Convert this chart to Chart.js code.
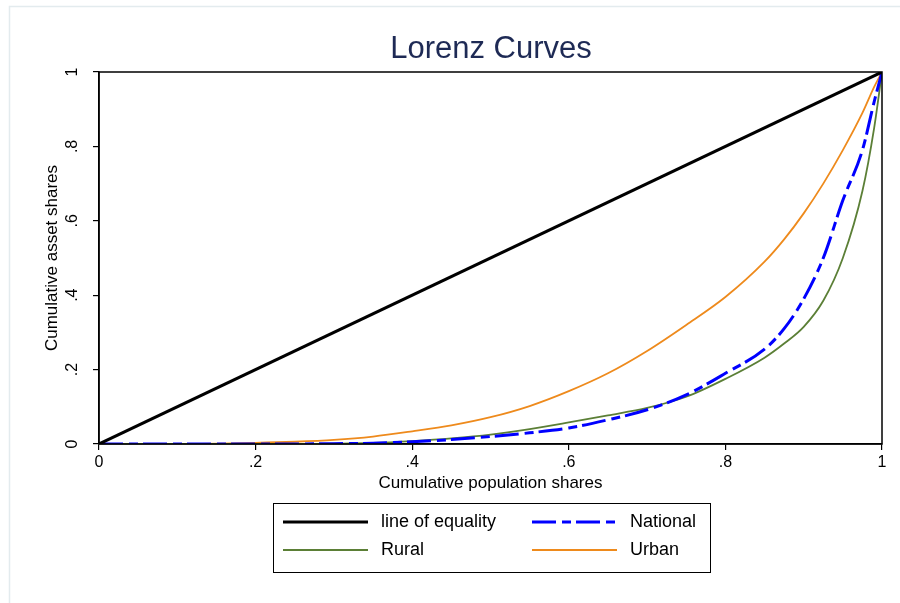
<!DOCTYPE html>
<html>
<head>
<meta charset="utf-8">
<title>Lorenz Curves</title>
<script src="https://cdn.jsdelivr.net/npm/chart.js@4.4.1/dist/chart.umd.min.js"></script>
<style>
  html, body { margin: 0; padding: 0; background: #fff; }
  #wrap { width: 900px; height: 603px; }
</style>
</head>
<body>
<div id="wrap"><canvas id="myChart" width="900" height="603"></canvas></div>
<script>
// data
const chartTitle = 'Lorenz Curves';
const popShares = [0, 0.1, 0.2, 0.25, 0.3, 0.35, 0.4, 0.45, 0.5, 0.55, 0.6, 0.65, 0.7, 0.75, 0.8, 0.85, 0.875, 0.9, 0.925, 0.95, 0.975, 0.99, 1];
const nationalShares = [0, 0, 0, 0, 0.001, 0.002, 0.006, 0.012, 0.02, 0.03, 0.043, 0.065, 0.092, 0.132, 0.19, 0.255, 0.31, 0.39, 0.5, 0.655, 0.79, 0.92, 1];
const ruralShares    = [0, 0, 0, 0, 0.001, 0.003, 0.008, 0.015, 0.025, 0.04, 0.058, 0.077, 0.097, 0.127, 0.175, 0.232, 0.27, 0.315, 0.385, 0.5, 0.68, 0.85, 1];
const urbanShares    = [0, 0, 0.003, 0.006, 0.011, 0.02, 0.034, 0.05, 0.072, 0.102, 0.142, 0.19, 0.25, 0.32, 0.395, 0.49, 0.55, 0.62, 0.7, 0.79, 0.89, 0.96, 1];
const equalityX = [0, 1];
const equalityY = [0, 1];
const tickValues = [0, 0.2, 0.4, 0.6, 0.8, 1];
const tickLabels = ['0', '.2', '.4', '.6', '.8', '1'];
const legendLabels = ['line of equality', 'National', 'Rural', 'Urban'];

const toPoints = (xs, ys) => xs.map((x, i) => ({ x: x, y: ys[i] }));

Chart.defaults.font.family = '"Liberation Sans", Arial, sans-serif';
Chart.defaults.color = '#000';

const nationalDash = [24, 6, 9, 5];
const colors = { eq: '#000000', nat: '#0000ff', rur: '#5b7f36', urb: '#ee8a1c' };

// frame, title, plot box and legend
const decor = {
    id: 'decor',
    beforeDraw(chart) {
        const ctx = chart.ctx;
        ctx.save();
        ctx.fillStyle = '#fff';
        ctx.fillRect(0, 0, chart.width, chart.height);
        ctx.strokeStyle = '#e3ebee';
        ctx.lineWidth = 1.5;
        ctx.beginPath();
        ctx.moveTo(9.5, chart.height);
        ctx.lineTo(9.5, 6.5);
        ctx.lineTo(chart.width, 6.5);
        ctx.stroke();
        ctx.restore();
    },
    afterDraw(chart) {
        const ctx = chart.ctx;
        const a = chart.chartArea;
        ctx.save();
        // plot box
        ctx.strokeStyle = '#000';
        ctx.lineWidth = 1.5;
        ctx.strokeRect(a.left, a.top, a.right - a.left, a.bottom - a.top);
        // title
        ctx.fillStyle = '#1e2a55';
        ctx.font = '31px "Liberation Sans", Arial, sans-serif';
        ctx.textAlign = 'center';
        ctx.textBaseline = 'alphabetic';
        ctx.fillText(chartTitle, (a.left + a.right) / 2 + 0.5, 58);
        // legend
        ctx.lineWidth = 1;
        ctx.strokeStyle = '#000';
        ctx.strokeRect(273.5, 503.5, 437, 69);
        const rows = [522, 550];
        const items = [
            { x: 283, y: rows[0], c: colors.eq, w: 3, d: [] },
            { x: 532, y: rows[0], c: colors.nat, w: 3, d: nationalDash },
            { x: 283, y: rows[1], c: colors.rur, w: 2, d: [] },
            { x: 532, y: rows[1], c: colors.urb, w: 2, d: [] }
        ];
        ctx.font = '18px "Liberation Sans", Arial, sans-serif';
        ctx.textAlign = 'left';
        ctx.textBaseline = 'middle';
        items.forEach((it, i) => {
            ctx.beginPath();
            ctx.setLineDash(it.d);
            ctx.strokeStyle = it.c;
            ctx.lineWidth = it.w;
            ctx.moveTo(it.x, it.y);
            ctx.lineTo(it.x + 85, it.y);
            ctx.stroke();
            ctx.setLineDash([]);
            ctx.fillStyle = '#000';
            ctx.fillText(legendLabels[i], it.x + 98, it.y);
        });
        ctx.restore();
    }
};

const data = {
    datasets: [
        {
            label: legendLabels[0],
            data: toPoints(equalityX, equalityY),
            borderColor: colors.eq,
            borderWidth: 3,
            pointRadius: 0
        },
        {
            label: legendLabels[1],
            data: toPoints(popShares, nationalShares),
            borderColor: colors.nat,
            borderWidth: 3,
            borderDash: nationalDash,
            pointRadius: 0,
            cubicInterpolationMode: 'monotone'
        },
        {
            label: legendLabels[2],
            data: toPoints(popShares, ruralShares),
            borderColor: colors.rur,
            borderWidth: 1.8,
            pointRadius: 0,
            cubicInterpolationMode: 'monotone'
        },
        {
            label: legendLabels[3],
            data: toPoints(popShares, urbanShares),
            borderColor: colors.urb,
            borderWidth: 1.8,
            pointRadius: 0,
            cubicInterpolationMode: 'monotone'
        }
    ]
};

const setTicks = scale => { scale.ticks = tickValues.map(v => ({ value: v })); };
const tickLabel = (value, index) => tickLabels[index];

const config = {
    type: 'line',
    data,
    options: {
        responsive: false,
        animation: false,
        layout: { padding: { left: 0, top: 72, right: 18, bottom: 109 } },
        plugins: {
            legend: { display: false },
            title: { display: false },
            tooltip: { enabled: false }
        },
        scales: {
            x: {
                type: 'linear',
                min: 0,
                max: 1,
                afterBuildTicks: setTicks,
                afterFit: s => { s.height = 50; },
                ticks: { callback: tickLabel, font: { size: 16 }, padding: 3, maxRotation: 0 },
                grid: { drawOnChartArea: false, color: '#000', tickLength: 6, lineWidth: 1.2 },
                border: { color: '#000', width: 1.5 },
                title: { display: true, text: 'Cumulative population shares', font: { size: 17 }, padding: { top: 1, bottom: 0 } }
            },
            y: {
                type: 'linear',
                min: 0,
                max: 1,
                afterBuildTicks: setTicks,
                afterFit: s => { s.width = 99; },
                ticks: { callback: tickLabel, font: { size: 16 }, padding: 14, minRotation: 90, maxRotation: 90, crossAlign: 'center', autoSkip: false },
                grid: { drawOnChartArea: false, color: '#000', tickLength: 6, lineWidth: 1.2 },
                border: { color: '#000', width: 1.5 },
                title: { display: true, text: 'Cumulative asset shares', font: { size: 17 }, padding: { top: 42, bottom: 0 } }
            }
        }
    },
    plugins: [decor]
};

const myChart = new Chart(document.getElementById('myChart'), config);
</script>
</body>
</html>
